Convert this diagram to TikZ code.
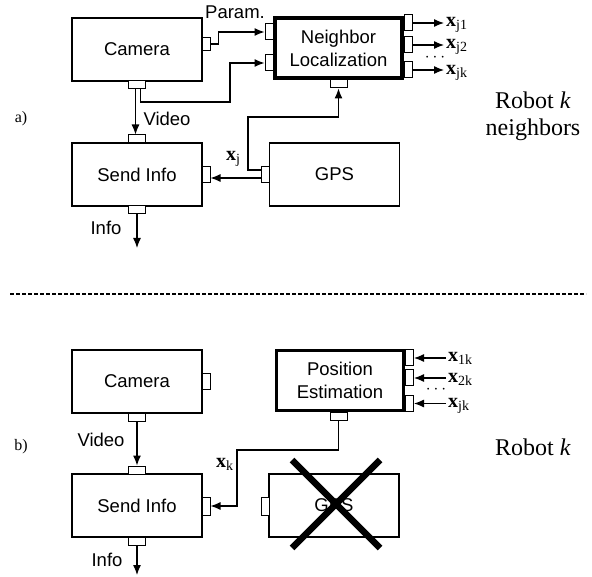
\documentclass[tikz,border=0pt]{standalone}
\usepackage{fontspec}
\setmainfont{Liberation Serif}
\setsansfont{Liberation Sans}
\usetikzlibrary{arrows.meta,positioning}

\begin{document}
\begin{tikzpicture}[x=1pt,y=-1pt,
  >={Latex[length=10pt,width=8pt]},
  blk/.style={draw=black, fill=white, line width=1.2pt, minimum width=130pt, minimum height=63pt, align=center, font=\sffamily\fontsize{18.5}{23}\selectfont},
  blkthick/.style={blk, line width=3.2pt, minimum width=127pt, minimum height=60pt},
  vport/.style={draw=black, fill=white, line width=1pt, minimum width=8pt, minimum height=16pt, inner sep=0pt},
  hport/.style={draw=black, fill=white, line width=1pt, minimum width=17pt, minimum height=8pt, inner sep=0pt},
  wire/.style={line width=1.2pt},
  lbl/.style={font=\sffamily\fontsize{18.5}{22}\selectfont, inner sep=0pt},
  xlbl/.style={font=\fontsize{20}{22}\selectfont, inner sep=2pt, anchor=base west},
  dotsl/.style={font=\fontsize{16}{18}\selectfont, inner sep=0pt},
  side/.style={font=\fontsize{24}{27}\selectfont, align=center}]
\useasboundingbox (0,0) rectangle (592,577);

% a) neighbors
\node[blk] (camA) at (137,49.5) {Camera};
\node[blkthick] (nlA) at (338.5,48) {Neighbor\\Localization};
\node[blk] (sendA) at (137,174.5) {Send Info};
\node[blk] (gpsA) at (334.5,174.5) {GPS};

\node[vport, minimum height=13pt] (pcamAr) at (206,44) {};
\node[hport] (pcamAb) at (137,85) {};
\node[vport] (pnlA1) at (269,32) {};
\node[vport] (pnlA2) at (269,63) {};
\node[vport] (pnlAo1) at (408,23) {};
\node[vport] (pnlAo2) at (408,45) {};
\node[vport] (pnlAo3) at (408,70) {};
\node[hport] (pnlAb) at (338.5,84) {};
\node[hport] (psendAt) at (137,139) {};
\node[vport] (psendAr) at (206,174.5) {};
\node[hport] (psendAb) at (137,210) {};
\node[vport] (pgpsA) at (265.5,174.5) {};

\coordinate (kA) at (230,102);
\coordinate (kG) at (248,117);
\coordinate (infoA) at (137,248);

\node[xlbl] (xj1) at (444,26.5) {\textbf{x}\textsubscript{j1}};
\node[xlbl] (xj2) at (444,48.5) {\textbf{x}\textsubscript{j2}};
\node[xlbl] (xjk) at (444,74.5) {\textbf{x}\textsubscript{jk}};
\node[dotsl] (dotsA) at (435,58) {$\cdots$};

\draw[wire,->] (pcamAr.east) -- ++(8,0) |- (pnlA1);
\draw[wire,->] ([xshift=-1.5pt]pcamAb.south) -- ([xshift=-1.5pt]psendAt.north);
\draw[wire,->] ([xshift=3.5pt]pcamAb.south) |- (kA) |- (pnlA2);
\draw[wire,->] ([yshift=4.5pt]pgpsA.west) -| (kG) -| (pnlAb);
\draw[wire,->] ([yshift=-3.5pt]pgpsA.west) -- ([yshift=-3.5pt]psendAr.east);
\draw[wire,->] (psendAb) -- (infoA);
\draw[wire,->] (pnlAo1) -- (pnlAo1 -| xj1.west);
\draw[wire,->] (pnlAo2) -- (pnlAo2 -| xj2.west);
\draw[wire,->] (pnlAo3) -- (pnlAo3 -| xjk.west);

\node[lbl] (param) at (235,12) {Param.};
\node[lbl] (videoA) at (167,119) {Video};
\node[lbl] (infoAl) at (106,228) {Info};
\node[xlbl] (xj) at (224,160.5) {\textbf{x}\textsubscript{j}};

\node[font=\fontsize{16}{18}\selectfont] (tagA) at (21,119) {a)};
\node[side] (robA) at (533,116) {Robot \textit{k}\\neighbors};

\draw[dash pattern=on 4pt off 2pt, line width=1.5pt] (10,294) -- (586,294);

% b) robot k
\node[blk] (camB) at (137,381.5) {Camera};
\node[blkthick] (posB) at (340,380.5) {Position\\Estimation};
\node[blk] (sendB) at (137,505.5) {Send Info};
\node[blk] (gpsB) at (334,505.5) {GPS};

\node[vport] (pcamBr) at (206,381.5) {};
\node[hport] (pcamBb) at (137,417) {};
\node[vport] (pposB1) at (409.5,358) {};
\node[vport] (pposB2) at (409.5,378) {};
\node[vport] (pposB3) at (409.5,403.5) {};
\node[hport] (pposBb) at (338.5,416) {};
\node[hport] (psendBt) at (137,470) {};
\node[vport, minimum height=18pt] (psendBr) at (206,506) {};
\node[hport] (psendBb) at (137,541) {};
\node[vport, minimum height=18pt] (pgpsB) at (265.5,506) {};

\coordinate (kB) at (237,450);
\coordinate (infoB) at (137,575);

\node[xlbl] (x1k) at (446,361.5) {\textbf{x}\textsubscript{1k}};
\node[xlbl] (x2k) at (446,382.5) {\textbf{x}\textsubscript{2k}};
\node[xlbl] (xjkB) at (446,407.5) {\textbf{x}\textsubscript{jk}};
\node[dotsl] (dotsB) at (436,390) {$\cdots$};

\draw[wire,->] (pposB1 -| x1k.west) -- (pposB1);
\draw[wire,->] (pposB2 -| x2k.west) -- (pposB2);
\draw[wire,->] (pposB3 -| xjkB.west) -- (pposB3);
\draw[wire,->] (pcamBb) -- (psendBt);
\draw[wire,->] (pposBb) |- (kB) |- (psendBr);
\draw[wire,->] (psendBb) -- (infoB);

\node[lbl] (videoB) at (101,440) {Video};
\node[lbl] (infoBl) at (107,560) {Info};
\node[xlbl] (xk) at (214,467.5) {\textbf{x}\textsubscript{k}};

% GPS out of service
\draw[line width=6.5pt] (292,460) -- (380,548);
\draw[line width=6.5pt] (380,460) -- (292,548);

\node[font=\fontsize{16}{18}\selectfont] (tagB) at (21,447) {b)};
\node[side] (robB) at (533,447) {Robot \textit{k}};
\end{tikzpicture}
\end{document}
